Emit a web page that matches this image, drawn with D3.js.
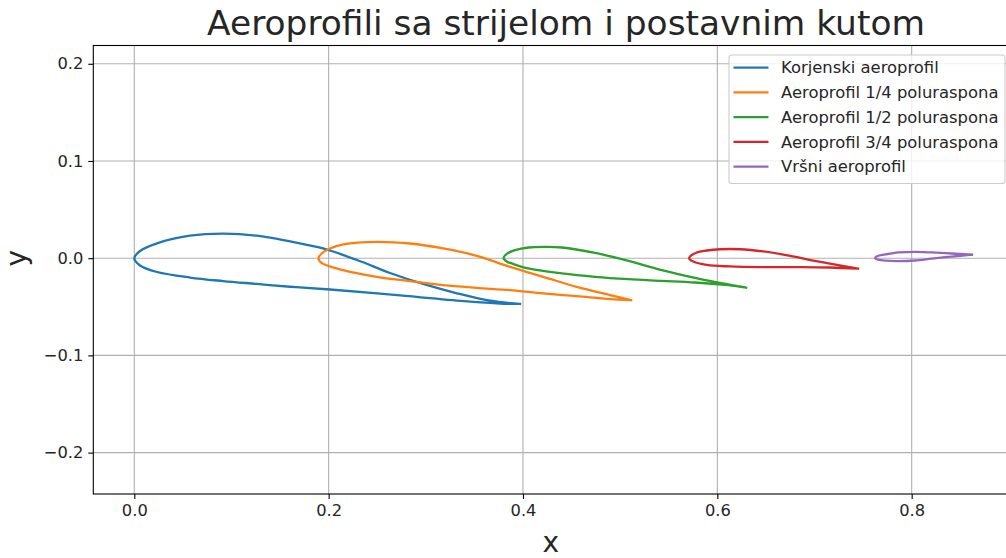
<!DOCTYPE html>
<html>
<head>
<meta charset="utf-8">
<script src="https://cdn.jsdelivr.net/npm/d3@7"></script>
<style>
  body { margin: 0; background: #fff; }
  text { font-family: "DejaVu Sans", sans-serif; fill: #262626; }
</style>
</head>
<body>
<script>
// podaci očitani sa slike: konture od izlaznog ruba preko gornjake, napadnog ruba i donjake natrag
const korijenski = [
  [0.3970,-0.0471],[0.3661,-0.0437],[0.3321,-0.0361],[0.2972,-0.0265],[0.2632,-0.0152],
  [0.2292,-0.0019],[0.1942,0.0100],[0.1603,0.0172],[0.1263,0.0231],[0.0913,0.0252],
  [0.0573,0.0231],[0.0234,0.0153],[0.0059,0.0074],[0.0000,0.0000],
  [0.0059,-0.0075],[0.0234,-0.0142],[0.0573,-0.0199],[0.0913,-0.0235],[0.1263,-0.0265],
  [0.1603,-0.0294],[0.2015,-0.0322],[0.2735,-0.0382],[0.3424,-0.0445],[0.3764,-0.0467],
  [0.3970,-0.0471]
];
const cetvrtina = [
  [0.5112,-0.0432],[0.4897,-0.0380],[0.4553,-0.0295],[0.4210,-0.0192],[0.3867,-0.0089],
  [0.3524,0.0024],[0.3180,0.0100],[0.2838,0.0151],[0.2494,0.0168],[0.2151,0.0141],
  [0.2014,0.0100],[0.1931,0.0051],[0.1895,0.0000],
  [0.1931,-0.0051],[0.2151,-0.0123],[0.2494,-0.0192],[0.2838,-0.0236],[0.3180,-0.0277],
  [0.3524,-0.0305],[0.3867,-0.0329],[0.4210,-0.0363],[0.4553,-0.0391],[0.4897,-0.0421],
  [0.5112,-0.0432]
];
const polovina = [
  [0.6296,-0.0303],[0.6113,-0.0270],[0.5771,-0.0202],[0.5429,-0.0123],[0.5084,-0.0028],
  [0.4742,0.0054],[0.4399,0.0110],[0.4227,0.0116],[0.4055,0.0110],[0.3918,0.0082],
  [0.3836,0.0046],[0.3800,0.0000],
  [0.3836,-0.0036],[0.3884,-0.0054],[0.4055,-0.0106],[0.4399,-0.0157],[0.4742,-0.0192],
  [0.5084,-0.0216],[0.5429,-0.0233],[0.5771,-0.0250],[0.6113,-0.0277],[0.6296,-0.0303]
];
const triCetvrtine = [
  [0.7448,-0.0108],[0.7230,-0.0069],[0.6988,-0.0024],[0.6749,0.0024],[0.6474,0.0069],
  [0.6234,0.0092],[0.6029,0.0092],[0.5891,0.0079],[0.5788,0.0059],[0.5709,0.0000],
  [0.5753,-0.0034],[0.5891,-0.0069],[0.6131,-0.0085],[0.6474,-0.0092],[0.6817,-0.0092],
  [0.7161,-0.0096],[0.7448,-0.0108]
];
const vrsni = [
  [0.8621,0.0036],[0.8413,0.0048],[0.8207,0.0059],[0.8035,0.0065],[0.7864,0.0059],
  [0.7727,0.0038],[0.7644,0.0021],[0.7623,0.0000],
  [0.7654,-0.0015],[0.7727,-0.0026],[0.7864,-0.0031],[0.8035,-0.0024],[0.8207,-0.0005],
  [0.8413,0.0017],[0.8621,0.0036]
];

const nazivi = ["Korjenski aeroprofil", "Aeroprofil 1/4 poluraspona", "Aeroprofil 1/2 poluraspona",
                "Aeroprofil 3/4 poluraspona", "Vršni aeroprofil"];
const boje = ["#1f77b4", "#ff7f0e", "#2ca02c", "#d62728", "#9467bd"];
const xTicks = [0.0, 0.2, 0.4, 0.6, 0.8];
const yTicks = [-0.2, -0.1, 0.0, 0.1, 0.2];

const profili = [korijenski, cetvrtina, polovina, triCetvrtine, vrsni];

const width = 1006, height = 558;
const mLeft = 93.3, mTop = 45.5, plotW = 917.2, plotH = 448.5;

const svg = d3.select("body").append("svg")
    .attr("width", width)
    .attr("height", height);

const x = d3.scaleLinear().domain([-0.0422, 0.9017]).range([mLeft, mLeft + plotW]);
const y = d3.scaleLinear().domain([-0.2426, 0.2188]).range([mTop + plotH, mTop]);

// mreža
const grid = svg.append("g");
grid.selectAll(".gx").data(xTicks).enter().append("line")
    .attr("x1", d => x(d)).attr("x2", d => x(d))
    .attr("y1", mTop).attr("y2", mTop + plotH)
    .attr("stroke", "#b0b0b0").attr("stroke-width", 1.1);
grid.selectAll(".gy").data(yTicks).enter().append("line")
    .attr("x1", mLeft).attr("x2", mLeft + plotW)
    .attr("y1", d => y(d)).attr("y2", d => y(d))
    .attr("stroke", "#b0b0b0").attr("stroke-width", 1.1);

// aeroprofili
const line = d3.line()
    .x(d => x(d[0]))
    .y(d => y(d[1]))
    .curve(d3.curveCatmullRom.alpha(0.5));

svg.append("g").selectAll("path")
    .data(profili)
    .enter().append("path")
    .attr("d", d => line(d))
    .attr("fill", "none")
    .attr("stroke", (d, i) => boje[i])
    .attr("stroke-width", 2.3)
    .attr("stroke-linejoin", "round")
    .attr("stroke-linecap", "square");

// osi
const fmt = d => d3.format(".1f")(d).replace("-", "\u2212");
const xAxis = svg.append("g")
    .attr("transform", `translate(0,${mTop + plotH})`)
    .call(d3.axisBottom(x).tickValues(xTicks).tickFormat(fmt).tickSize(5).tickPadding(5));
const yAxis = svg.append("g")
    .attr("transform", `translate(${mLeft},0)`)
    .call(d3.axisLeft(y).tickValues(yTicks).tickFormat(fmt).tickSize(5).tickPadding(5));
[xAxis, yAxis].forEach(a => {
  a.select(".domain").remove();
  a.selectAll("line").attr("stroke", "#000").attr("stroke-width", 1.1);
  a.selectAll("text").style("font-family", "DejaVu Sans").style("font-size", "16.3px").attr("fill", "#262626");
});

// okvir
svg.append("rect")
    .attr("x", mLeft).attr("y", mTop)
    .attr("width", plotW).attr("height", plotH)
    .attr("fill", "none").attr("stroke", "#000").attr("stroke-width", 1.1);

// naslovi
svg.append("text")
    .attr("x", 566).attr("y", 35)
    .attr("text-anchor", "middle")
    .style("font-size", "34.4px")
    .text("Aeroprofili sa strijelom i postavnim kutom");
svg.append("text")
    .attr("x", x(0.4286)).attr("y", 552)
    .attr("text-anchor", "middle")
    .style("font-size", "28px")
    .text("x");
svg.append("text")
    .attr("transform", `translate(26,${y(0)}) rotate(-90)`)
    .attr("text-anchor", "middle")
    .style("font-size", "28px")
    .text("y");

// legenda
const leg = svg.append("g").attr("transform", "translate(729,55)");
leg.append("rect")
    .attr("width", 276).attr("height", 128.5)
    .attr("rx", 3)
    .attr("fill", "#fff").attr("fill-opacity", 0.8)
    .attr("stroke", "#cccccc").attr("stroke-width", 1.1);
const item = leg.selectAll(".item").data(nazivi).enter().append("g")
    .attr("transform", (d, i) => `translate(0,${12.7 + i * 24.75})`);
item.append("line")
    .attr("x1", 4.5).attr("x2", 39.5)
    .attr("stroke", (d, i) => boje[i]).attr("stroke-width", 2.3);
item.append("text")
    .attr("x", 52).attr("dy", "0.35em")
    .style("font-size", "16.4px")
    .text(d => d);
</script>
</body>
</html>
